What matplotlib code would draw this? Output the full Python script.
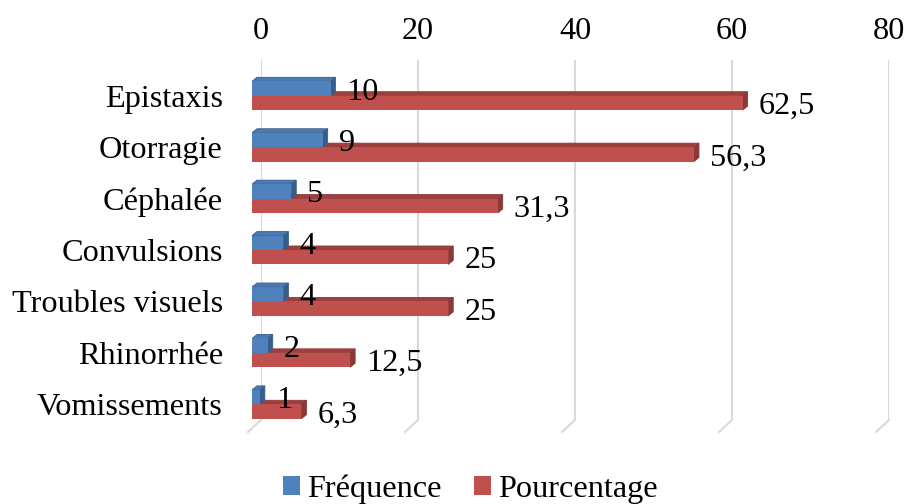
import matplotlib
matplotlib.use('Agg')
import matplotlib.pyplot as plt
from matplotlib.patches import Polygon, Patch

categories = ['Epistaxis', 'Otorragie', 'Céphalée', 'Convulsions',
              'Troubles visuels', 'Rhinorrhée', 'Vomissements']
frequence = [10, 9, 5, 4, 4, 2, 1]
pourcentage = [62.5, 56.3, 31.3, 25, 25, 12.5, 6.3]
xticks = [0, 20, 40, 60, 80]
series_names = ['Fréquence', 'Pourcentage']

W, H, DPI = 906, 504, 100
plt.rcParams['font.family'] = ['Liberation Serif', 'DejaVu Serif']
FS = 23.2

BLUE, BLUE_TOP, BLUE_SIDE = '#4F81BD', '#4A7AB5', '#385D8A'
RED, RED_TOP, RED_SIDE = '#C0504D', '#9E3F3D', '#8C3836'
GRID = '#D9D9D9'

fig = plt.figure(figsize=(W / DPI, H / DPI), dpi=DPI)


def frac(x0, ytop, w, h):
    return [x0 / W, 1 - (ytop + h) / H, w / W, h / H]


n = len(categories)
XMAX = 80
plot_w, plot_h = 628, 360
px_x = plot_w / XMAX
px_y = plot_h / n

# back plane (gridlines + top ticks)
ax_b = fig.add_axes(frac(261, 60, plot_w, plot_h))
ax_b.set_xlim(0, XMAX)
ax_b.set_ylim(n - 0.5, -0.5)
ax_b.set_xticks(xticks)
ax_b.set_yticks([])
ax_b.xaxis.tick_top()
ax_b.tick_params(axis='x', length=0, pad=10.2, labelsize=FS, colors='black')
for s in ax_b.spines.values():
    s.set_visible(False)
for v in xticks:
    ax_b.plot([v, v], [-0.5, n - 0.5], color=GRID, lw=1.5, zorder=1)
    ax_b.plot([v, v - 13 / px_x], [n - 0.5, n - 0.5 + 12 / px_y],
              color=GRID, lw=1.5, clip_on=False, zorder=1)

# front plane (bars)
ax_f = fig.add_axes(frac(252, 70, plot_w, plot_h))
ax_f.patch.set_visible(False)
ax_f.set_xlim(0, XMAX)
ax_f.set_ylim(n - 0.5, -0.5)
ax_f.set_xticks([])
ax_f.set_yticks(range(n))
ax_f.set_yticklabels(categories)
ax_f.tick_params(axis='y', length=0, pad=21, labelsize=FS, colors='black')
for s in ax_f.spines.values():
    s.set_visible(False)

bh = 0.28
ddx = 5 / px_x
ddy = 4 / px_y


def bar3d(ax, y0, y1, v, top, side, z):
    ax.add_patch(Polygon([(0, y0), (v, y0), (v + ddx, y0 - ddy), (ddx, y0 - ddy)],
                         closed=True, facecolor=top, edgecolor=side, lw=0.6, zorder=z))
    ax.add_patch(Polygon([(v, y0), (v, y1), (v + ddx, y1 - ddy), (v + ddx, y0 - ddy)],
                         closed=True, facecolor=side, edgecolor=side, lw=0.6, zorder=z))


ys = list(range(n))
for i, (f, p) in enumerate(zip(frequence, pourcentage)):
    bar3d(ax_f, i, i + bh, p, RED_TOP, RED_SIDE, 2)
    bar3d(ax_f, i - bh, i, f, BLUE_TOP, BLUE_SIDE, 3)

ax_f.barh([y + bh / 2 for y in ys], pourcentage, height=bh, color=RED, zorder=2.5)
ax_f.barh([y - bh / 2 for y in ys], frequence, height=bh, color=BLUE, zorder=3.5)


def fmt(v):
    return f"{v:g}".replace('.', ',')


for i, (f, p) in enumerate(zip(frequence, pourcentage)):
    ax_f.annotate(fmt(f), xy=(f, i - bh / 2), xytext=(16, 0), textcoords='offset pixels',
                  ha='left', va='center_baseline', fontsize=FS, zorder=6)
    ax_f.annotate(fmt(p), xy=(p, i + bh / 2), xytext=(16, 0), textcoords='offset pixels',
                  ha='left', va='center_baseline', fontsize=FS, zorder=6)

handles = [Patch(facecolor=BLUE, label=series_names[0]),
           Patch(facecolor=RED, label=series_names[1])]
fig.legend(handles=handles, loc='center', bbox_to_anchor=(470.5 / W, 1 - 489 / H),
           ncol=2, frameon=False, fontsize=FS, handlelength=0.53, handleheight=0.53,
           handletextpad=0.22, columnspacing=1.0, borderpad=0, borderaxespad=0)

fig.savefig('out.png', dpi=DPI)
